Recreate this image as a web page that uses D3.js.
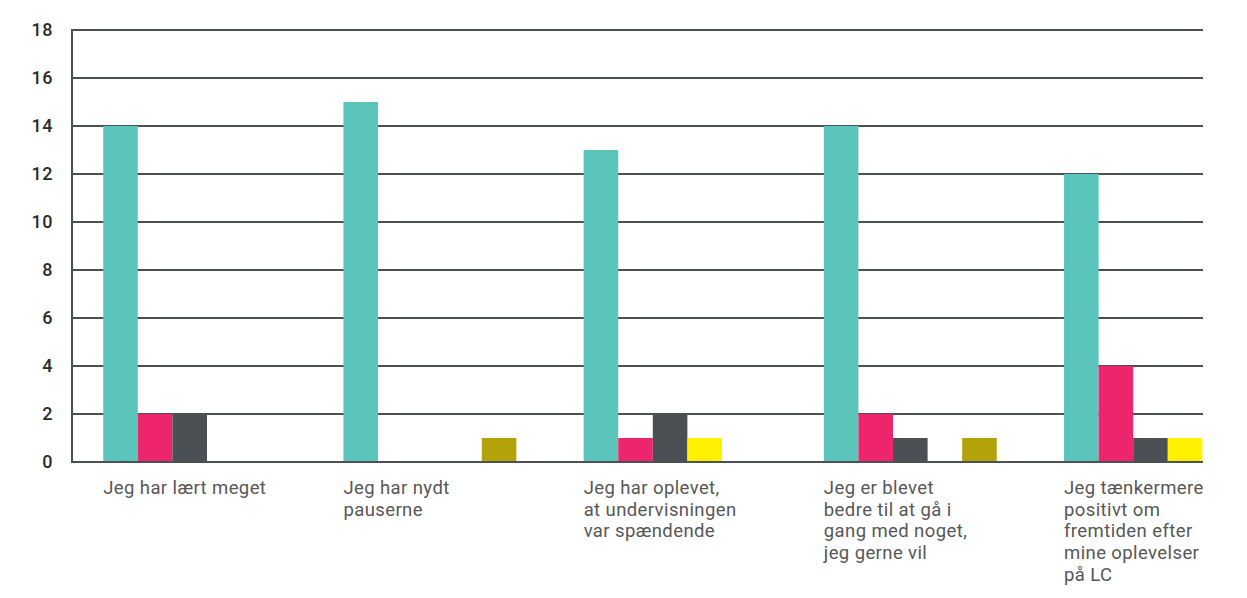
<!DOCTYPE html>
<html><head><meta charset="utf-8">
<script src="https://cdn.jsdelivr.net/npm/d3@7/dist/d3.min.js"></script>
<style>body{margin:0;background:#fff}svg{display:block}</style>
</head><body><svg id="c" width="1247" height="598"></svg>
<script>
const categories = [
  ["Jeg har lært meget"],
  ["Jeg har nydt", "pauserne"],
  ["Jeg har oplevet,", "at undervisningen", "var spændende"],
  ["Jeg er blevet", "bedre til at gå i", "gang med noget,", "jeg gerne vil"],
  ["Jeg tænkermere", "positivt om", "fremtiden efter", "mine oplevelser", "på LC"]
];
const seriesNames = ["s1","s2","s3","s4","s5"];
const seriesColors = ["#5bc5bc","#ec256d","#4b5055","#fff100","#b4a20a"];
const s1 = [14, 15, 13, 14, 12];
const s2 = [2, 0, 1, 2, 4];
const s3 = [2, 0, 2, 1, 1];
const s4 = [0, 0, 1, 0, 1];
const s5 = [0, 1, 0, 1, 0];
const seriesValues = [s1, s2, s3, s4, s5];
const yTicks = [0,2,4,6,8,10,12,14,16,18];

const svg = d3.select("#c");
const mLeft = 72, gridRight = 1203, mTop = 30, mBottom = 462;
const step = 240.2, pIn = 0.28, pOut = 0.13;
const y = d3.scaleLinear().domain([0,18]).range([mBottom, mTop]);
const x0 = d3.scaleBand().domain(d3.range(categories.length))
  .range([mLeft, mLeft + step*(categories.length - pIn + 2*pOut)]).paddingInner(pIn).paddingOuter(pOut);
const x1 = d3.scaleBand().domain(seriesNames).range([0, x0.bandwidth()]);

// gridlines
svg.append("g").selectAll("line").data(yTicks).join("line")
  .attr("x1", mLeft).attr("x2", gridRight)
  .attr("y1", d => y(d)).attr("y2", d => y(d))
  .attr("stroke", "#4b5055").attr("stroke-width", 2);

// bars
const g = svg.append("g");
categories.forEach((c, ci) => {
  seriesNames.forEach((s, si) => {
    const v = seriesValues[si][ci];
    if (v > 0) {
      g.append("rect")
        .attr("x", x0(ci) + x1(s)).attr("width", x1.bandwidth())
        .attr("y", y(v)).attr("height", y(0) - y(v) - 1)
        .attr("fill", seriesColors[si]);
    }
  });
});

// y axis line
svg.append("line").attr("x1", mLeft).attr("x2", mLeft).attr("y1", mTop-1).attr("y2", mBottom+1)
  .attr("stroke", "#4b5055").attr("stroke-width", 2);
// baseline
svg.append("line").attr("x1", mLeft).attr("x2", gridRight).attr("y1", mBottom).attr("y2", mBottom)
  .attr("stroke", "#4b5055").attr("stroke-width", 2);

// y tick labels
svg.append("g").selectAll("text").data(yTicks).join("text")
  .attr("x", 53).attr("y", d => y(d)).attr("dy", "0.36em")
  .attr("text-anchor", "end")
  .attr("font-family", "Roboto, sans-serif").attr("font-size", 18).attr("font-weight", 500)
  .attr("letter-spacing", 0.5)
  .attr("fill", "#2b2b2b").text(d => d);

// category labels
const lab = svg.append("g");
categories.forEach((lines, ci) => {
  const t = lab.append("text")
    .attr("x", x0(ci)).attr("y", 494)
    .attr("font-family", "Roboto, sans-serif").attr("font-size", 18.5).attr("font-weight", 400)
    .attr("letter-spacing", 0.4)
    .attr("fill", "#575757");
  lines.forEach((l, li) => {
    t.append("tspan").attr("x", x0(ci)).attr("dy", li === 0 ? 0 : 21.7).text(l);
  });
});
</script></body></html>
